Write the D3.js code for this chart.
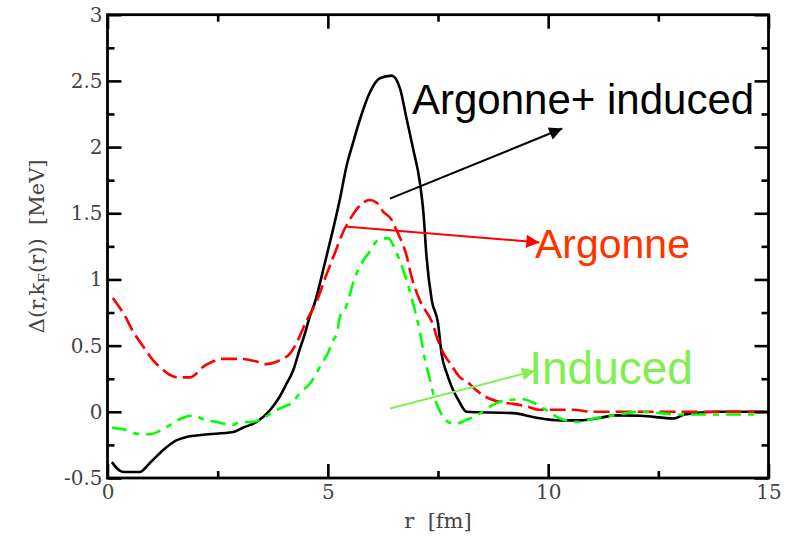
<!DOCTYPE html>
<html>
<head>
<meta charset="utf-8">
<script src="https://cdn.jsdelivr.net/npm/d3@7"></script>
<style>
  html, body { margin: 0; padding: 0; background: #fff; }
  svg { display: block; }
  text { white-space: pre; }
</style>
</head>
<body>
<svg id="chart" width="794" height="536"></svg>
<script>
// ---- data ----
const blackR = [0.1,0.35,0.73,0.95,1.26,1.56,1.79,2.17,2.85,3.07,3.38,3.68,3.9,4.06,4.21,4.36,4.48,4.59,4.7,4.93,5.12,5.27,5.42,5.57,5.73,5.95,6.18,6.45,6.64,6.79,6.94,7.09,7.17,7.24,7.36,7.5,7.58,7.7,7.81,7.96,8.15,9.21,9.74,10.27,10.73,11.26,11.5,12.1,12.85,13.1,13.8,15];
const blackV = [-0.38,-0.455,-0.455,-0.39,-0.29,-0.216,-0.19,-0.173,-0.153,-0.12,-0.077,0.01,0.11,0.21,0.31,0.47,0.59,0.72,0.82,1.12,1.38,1.6,1.85,2.03,2.21,2.41,2.52,2.54,2.44,2.21,1.98,1.73,1.5,1.17,0.84,0.67,0.44,0.29,0.19,0.09,0.0,-0.01,-0.045,-0.065,-0.065,-0.04,-0.027,-0.03,-0.05,-0.02,0,0];

const redR = [0.12,0.27,0.42,0.54,0.71,0.84,1.03,1.22,1.41,1.6,1.86,2.02,2.13,2.39,2.58,3.0,3.38,3.6,3.91,4.14,4.29,4.4,4.52,4.65,4.74,4.95,5.16,5.35,5.46,5.61,5.8,5.95,6.11,6.26,6.45,6.52,6.67,6.77,6.9,7.09,7.36,7.51,7.66,7.77,8.0,8.15,8.38,8.6,8.9,9.21,9.52,9.8,10.57,11.0,15];
const redV = [0.86,0.79,0.71,0.63,0.54,0.48,0.39,0.33,0.28,0.26,0.26,0.29,0.33,0.38,0.40,0.40,0.38,0.36,0.39,0.44,0.52,0.60,0.69,0.77,0.83,1.02,1.20,1.36,1.43,1.51,1.58,1.60,1.58,1.51,1.45,1.40,1.29,1.20,1.02,0.84,0.68,0.53,0.42,0.37,0.26,0.23,0.16,0.11,0.075,0.06,0.04,0.016,0.016,0.0,0.0];

const greenR = [0.1,0.5,0.65,0.95,1.18,1.37,1.67,1.98,2.13,2.47,2.85,3.0,3.27,3.57,3.76,3.98,4.21,4.36,4.61,4.82,5.01,5.12,5.21,5.27,5.41,5.6,5.8,5.95,6.11,6.26,6.38,6.48,6.6,6.8,6.95,7.08,7.2,7.32,7.39,7.5,7.62,7.75,7.92,8.11,8.38,8.6,8.8,9.06,9.44,9.63,9.97,10.27,10.73,11.03,11.48,12.07,12.98,13.74,14.7];
const greenV = [-0.12,-0.145,-0.165,-0.17,-0.145,-0.11,-0.05,-0.027,-0.05,-0.077,-0.097,-0.077,-0.077,-0.04,0.0,0.036,0.075,0.14,0.22,0.34,0.45,0.54,0.60,0.71,0.79,1.0,1.14,1.21,1.29,1.31,1.31,1.26,1.17,0.98,0.8,0.62,0.4,0.24,0.14,0.036,-0.04,-0.08,-0.09,-0.065,-0.027,0.024,0.062,0.087,0.095,0.074,0.011,-0.05,-0.077,-0.05,-0.027,0.0,-0.02,-0.02,-0.02];

const xMajorTicks = [0, 5, 10, 15];
const xMinorTicks = [2.5, 7.5, 12.5];
const xTickLabels = ["0", "5", "10", "15"];
const yMajorTicks = [-0.5, 0, 0.5, 1, 1.5, 2, 2.5, 3];
const yMinorTicks = [-0.25, 0.25, 0.75, 1.25, 1.75, 2.25, 2.75];
const yTickLabels = ["-0.5", "0", "0.5", "1", "1.5", "2", "2.5", "3"];

// annotations
const annLabels = ["Argonne+ induced", "Argonne", "Induced"];
const annTextPos = [[6.91, 2.25], [9.7, 1.16], [9.57, 0.21]];
const annArrowFrom = [[6.41, 1.61], [5.39, 1.40], [6.41, 0.025]];
const annArrowTo = [[10.32, 2.14], [9.8, 1.28], [9.7, 0.31]];

// ---- layout ----
const svg = d3.select("#chart");
const pLeft = 107.5, pRight = 768.5, pTop = 14.7, pBottom = 478;
const x = d3.scaleLinear().domain([0, 15]).range([pLeft, pRight]);
const y = d3.scaleLinear().domain([-0.5, 3]).range([pBottom, pTop]);

const lineGen = d3.line().curve(d3.curveMonotoneX).x(d => x(d[0])).y(d => y(d[1]));
const zip = (a, b) => a.map((v, i) => [v, b[i]]);

const plot = svg.append("g");
plot.append("path").datum(zip(blackR, blackV))
  .attr("d", lineGen).attr("fill", "none").attr("stroke", "#000")
  .attr("stroke-width", 2.6);
plot.append("path").datum(zip(redR, redV))
  .attr("d", lineGen).attr("fill", "none").attr("stroke", "#ff0000")
  .attr("stroke-width", 2.6).attr("stroke-dasharray", "16,6");
plot.append("path").datum(zip(greenR, greenV))
  .attr("d", lineGen).attr("fill", "none").attr("stroke", "#00ff00")
  .attr("stroke-width", 2.6).attr("stroke-dasharray", "15,7,6,7");

// ---- axes ----
const tickFont = "DejaVu Serif";
function styleAxis(g) {
  g.select(".domain").remove();
  g.selectAll(".tick line").attr("stroke", "#000").attr("stroke-width", 2.6);
  g.selectAll(".tick text").attr("font-family", tickFont).attr("font-size", 20).attr("fill", "#444");
}
svg.append("g").attr("transform", `translate(0,${pBottom})`)
  .call(d3.axisBottom(x).tickValues(xMajorTicks).tickSizeInner(-14).tickSizeOuter(0).tickPadding(7)
    .tickFormat((d, i) => xTickLabels[i])).call(styleAxis);
svg.append("g").attr("transform", `translate(0,${pBottom})`)
  .call(d3.axisBottom(x).tickValues(xMinorTicks).tickSizeInner(-7).tickSizeOuter(0).tickFormat("")).call(styleAxis);
svg.append("g").attr("transform", `translate(0,${pTop})`)
  .call(d3.axisTop(x).tickValues(xMajorTicks).tickSizeInner(-14).tickSizeOuter(0).tickFormat("")).call(styleAxis);
svg.append("g").attr("transform", `translate(0,${pTop})`)
  .call(d3.axisTop(x).tickValues(xMinorTicks).tickSizeInner(-7).tickSizeOuter(0).tickFormat("")).call(styleAxis);
svg.append("g").attr("transform", `translate(${pLeft},0)`)
  .call(d3.axisLeft(y).tickValues(yMajorTicks).tickSizeInner(-14).tickSizeOuter(0).tickPadding(5)
    .tickFormat((d, i) => yTickLabels[i])).call(styleAxis);
svg.append("g").attr("transform", `translate(${pLeft},0)`)
  .call(d3.axisLeft(y).tickValues(yMinorTicks).tickSizeInner(-7).tickSizeOuter(0).tickFormat("")).call(styleAxis);
svg.append("g").attr("transform", `translate(${pRight},0)`)
  .call(d3.axisRight(y).tickValues(yMajorTicks).tickSizeInner(-14).tickSizeOuter(0).tickFormat("")).call(styleAxis);
svg.append("g").attr("transform", `translate(${pRight},0)`)
  .call(d3.axisRight(y).tickValues(yMinorTicks).tickSizeInner(-7).tickSizeOuter(0).tickFormat("")).call(styleAxis);

svg.append("rect").attr("x", pLeft).attr("y", pTop)
  .attr("width", pRight - pLeft).attr("height", pBottom - pTop)
  .attr("fill", "none").attr("stroke", "#000").attr("stroke-width", 2.8);

// axis titles
svg.append("text").attr("x", (pLeft + pRight) / 2).attr("y", 528)
  .attr("text-anchor", "middle").attr("font-family", tickFont).attr("font-size", 21).attr("fill", "#444")
  .text("r  [fm]");
const yt = svg.append("text").attr("transform", `translate(44,${(pTop + pBottom) / 2}) rotate(-90)`)
  .attr("text-anchor", "middle").attr("font-family", tickFont).attr("font-size", 21).attr("fill", "#444");
yt.append("tspan").text("Δ(r,k");
yt.append("tspan").attr("font-size", 14).attr("dy", 5).text("F");
yt.append("tspan").attr("dy", -5).text("(r))  [MeV]");

// ---- annotations ----
const annColors = ["#000000", "#ff3300", "#80f050"];
const arrowColors = ["#000000", "#ff0000", "#80f050"];
const annSizes = [42, 41, 46];
const defs = svg.append("defs");
arrowColors.forEach((c, i) => {
  defs.append("marker").attr("id", "ah" + i).attr("viewBox", "0 0 10 10")
    .attr("refX", 10).attr("refY", 5).attr("markerWidth", 17).attr("markerHeight", 13)
    .attr("markerUnits", "userSpaceOnUse").attr("orient", "auto")
    .append("path").attr("d", "M0,0 L10,5 L0,10 Z").attr("fill", c);
});
annLabels.forEach((lab, i) => {
  svg.append("line")
    .attr("x1", x(annArrowFrom[i][0])).attr("y1", y(annArrowFrom[i][1]))
    .attr("x2", x(annArrowTo[i][0])).attr("y2", y(annArrowTo[i][1]))
    .attr("stroke", arrowColors[i]).attr("stroke-width", 2)
    .attr("marker-end", `url(#ah${i})`);
  svg.append("text").attr("x", x(annTextPos[i][0])).attr("y", y(annTextPos[i][1]))
    .attr("font-family", "Liberation Sans, Arial, sans-serif")
    .attr("font-size", annSizes[i]).attr("fill", annColors[i]).text(lab);
});
</script>
</body>
</html>
